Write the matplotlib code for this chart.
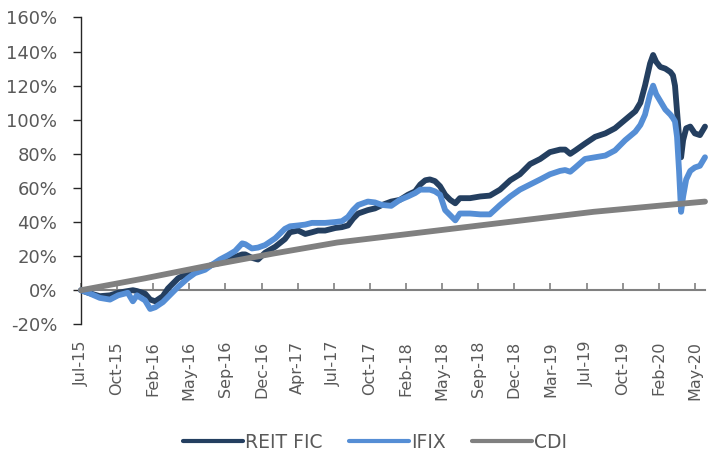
import matplotlib
matplotlib.use("Agg")
import matplotlib.pyplot as plt
from matplotlib.ticker import FuncFormatter

# ---- data (trading-day index from Jul-2015, values in %) ----
days = [0, 14, 37, 57, 73, 92, 102, 110, 126, 136,
        146, 161, 171, 191, 210, 224, 244, 258, 273, 289,
        303, 317, 323, 336, 348, 362, 382, 401, 411, 427,
        441, 454, 466, 480, 500, 513, 525, 535, 545, 564,
        578, 592, 610, 627, 643, 657, 667, 677, 686, 696,
        706, 716, 726, 736, 745, 765, 785, 804, 824, 844,
        863, 883, 903, 922, 942, 952, 962, 972, 991, 1011,
        1031, 1050, 1070, 1090, 1100, 1109, 1119, 1125, 1131, 1139,
        1149, 1159, 1164, 1168, 1172, 1176, 1180, 1184, 1190, 1198,
        1207, 1217, 1227]

reit_fic = [0, -1.5, -3.5, -3, -1.5, -0.5, 0, -0.5, -2, -5.5,
            -6.5, -3.5, 1, 7, 10, 11, 13, 15, 16, 18,
            19.5, 21, 21, 19, 18, 22, 25.5, 30, 34, 35,
            33, 34, 35, 35, 36.5, 37, 38, 42, 45, 47,
            48, 50, 52, 53, 56, 58, 62, 64.5, 65, 64,
            61, 56, 53, 51, 54, 54, 55, 55.5, 59, 64.5,
            68, 74, 77, 81, 82.5, 82.5, 80, 82, 86, 90,
            92, 95, 100, 105, 110, 120, 133, 138, 134, 131,
            130, 128, 126, 120, 105, 90, 78, 88, 95, 96,
            92, 91, 96]

ifix = [0, -1.5, -4.5, -5.5, -3, -1.5, -6.5, -3, -6, -11,
        -10, -7, -4, 2, 7, 10, 12, 15, 18, 20.5,
        23, 27.5, 27, 24.5, 25, 26.5, 30.5, 36, 37.5, 38,
        38.5, 39.5, 39.5, 39.5, 40, 40.5, 43, 47, 50, 52,
        51.5, 50, 49.5, 53, 55, 57, 59, 59, 59, 58,
        56, 47, 44, 41, 45, 45, 44.5, 44.5, 50, 55,
        59, 62, 65, 68, 70, 70.5, 69.5, 72, 77, 78,
        79, 82, 88, 93, 97, 103, 115, 120, 115, 111,
        106, 103, 101, 99, 90, 70, 46, 55, 65, 70,
        72, 73, 78]

cdi_days = [0, 126, 252, 378, 504, 630, 756, 882, 1008, 1134, 1227]
cdi = [0, 7, 14.5, 21.5, 28, 32.5, 37, 41.5, 46, 49.5, 52]

tick_labels = ["Jul-15", "Oct-15", "Feb-16", "May-16", "Sep-16", "Dec-16",
               "Apr-17", "Jul-17", "Oct-17", "Feb-18", "May-18", "Sep-18",
               "Dec-18", "Mar-19", "Jul-19", "Oct-19", "Feb-20", "May-20"]
tick_step = 71

# ---- style ----
dark = "#243F60"
blue = "#558ED5"
gray = "#808080"
txt = "#595959"

fig = plt.figure(figsize=(7.08, 4.5), dpi=100)
ax = fig.add_axes([81 / 708, 125.7 / 450, 624 / 708, 306.8 / 450])

lw = 4.2
ax.plot(days, reit_fic, color=dark, lw=lw, solid_capstyle="round",
        solid_joinstyle="round", label="REIT FIC", clip_on=False, zorder=3)
ax.plot(days, ifix, color=blue, lw=lw, solid_capstyle="round",
        solid_joinstyle="round", label="IFIX", clip_on=False, zorder=4)
ax.plot(cdi_days, cdi, color=gray, lw=lw, solid_capstyle="round",
        label="CDI", clip_on=False, zorder=5)

ax.set_xlim(0, days[-1])
ax.set_ylim(-20, 160)
ax.set_yticks(range(-20, 161, 20))
ax.yaxis.set_major_formatter(FuncFormatter(lambda v, p: f"{v:.0f}%"))
ax.tick_params(axis="y", direction="out", length=6, width=1, color="#262626",
               labelsize=13, labelcolor=txt, pad=11)

for s in ("top", "right"):
    ax.spines[s].set_visible(False)
ax.spines["left"].set_color("#262626")
ax.spines["left"].set_linewidth(1)
ax.spines["bottom"].set_position(("data", 0))
ax.spines["bottom"].set_color(gray)
ax.spines["bottom"].set_linewidth(1.5)
ax.spines["bottom"].set_zorder(1)

tick_pos = [i * tick_step for i in range(len(tick_labels))]
ax.set_xticks(tick_pos)
ax.tick_params(axis="x", direction="in", length=5, width=1.2, color=gray,
               labelbottom=False)

sec = ax.secondary_xaxis("bottom")
sec.set_xticks(tick_pos)
sec.set_xticklabels(tick_labels, rotation=90, fontsize=11.5, color=txt)
sec.tick_params(axis="x", length=0, pad=12)
sec.spines["bottom"].set_visible(False)

leg = fig.legend(loc="center", bbox_to_anchor=(375 / 708, 8 / 450), ncol=3,
                 frameon=False, fontsize=13.5, handlelength=3.2,
                 handletextpad=0.1, columnspacing=1.4, labelcolor=txt)
for h in leg.get_lines():
    h.set_linewidth(3)
    h.set_solid_capstyle("round")

fig.savefig("out.png", dpi=100)
